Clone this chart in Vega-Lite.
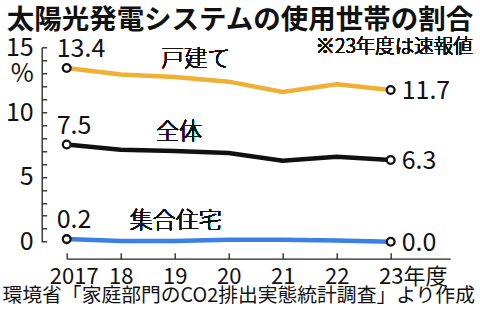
{
  "$schema": "https://vega.github.io/schema/vega-lite/v6.json",
  "width": 383.4,
  "height": 194.4,
  "autosize": "none",
  "padding": {"left": 66.7, "top": 47.3, "right": 30, "bottom": 81.3},
  "background": "white",
  "config": {
    "view": {"stroke": null},
    "font": "Noto Sans CJK JP",
    "axis": {"grid": false, "domainColor": "#222", "tickColor": "#222", "labelColor": "#111", "titleColor": "#111", "labelFont": "Noto Sans CJK JP", "titleFont": "Noto Sans CJK JP"}
  },
  "title": {
    "text": "太陽光発電システムの使用世帯の割合",
    "anchor": "start",
    "frame": "group",
    "font": "Noto Sans CJK JP",
    "fontSize": 27.5,
    "fontWeight": "bold",
    "color": "#111",
    "dx": -60,
    "dy": 3
  },
  "data": {
    "values": [
      {"series": "戸建て", "year": 2017, "value": 13.4},
      {"series": "戸建て", "year": 2018, "value": 12.9},
      {"series": "戸建て", "year": 2019, "value": 12.7},
      {"series": "戸建て", "year": 2020, "value": 12.35},
      {"series": "戸建て", "year": 2021, "value": 11.55},
      {"series": "戸建て", "year": 2022, "value": 12.15},
      {"series": "戸建て", "year": 2023, "value": 11.7},
      {"series": "全体", "year": 2017, "value": 7.5},
      {"series": "全体", "year": 2018, "value": 7.1},
      {"series": "全体", "year": 2019, "value": 7.0},
      {"series": "全体", "year": 2020, "value": 6.85},
      {"series": "全体", "year": 2021, "value": 6.25},
      {"series": "全体", "year": 2022, "value": 6.55},
      {"series": "全体", "year": 2023, "value": 6.3},
      {"series": "集合住宅", "year": 2017, "value": 0.2},
      {"series": "集合住宅", "year": 2018, "value": 0.05},
      {"series": "集合住宅", "year": 2019, "value": 0.05},
      {"series": "集合住宅", "year": 2020, "value": 0.15},
      {"series": "集合住宅", "year": 2021, "value": 0.15},
      {"series": "集合住宅", "year": 2022, "value": 0.1},
      {"series": "集合住宅", "year": 2023, "value": 0.0}
    ]
  },
  "encoding": {
    "x": {
      "field": "year",
      "type": "quantitative",
      "scale": {"domain": [2017, 2024.1], "nice": false, "zero": false},
      "axis": {
        "values": [2017, 2018, 2019, 2020, 2021, 2022, 2023],
        "format": "d",
        "labelExpr": "datum.value == 2017 ? datum.label : (datum.value == 2023 ? '23年度' : substring(datum.label, 2))",
        "labelFontSize": 22,
        "labelPadding": 14,
        "labelOverlap": false,
        "labelFlush": false,
        "labelBound": false,
        "labelOffset": {"condition": [{"test": "datum.value == 2023", "value": 22}, {"test": "datum.value == 2017", "value": 7}], "value": 0},
        "offset": 17,
        "tickSize": -6,
        "tickWidth": 1.3,
        "domainWidth": 1.3,
        "title": "環境省「家庭部門のCO2排出実態統計調査」より作成",
        "titleFontSize": 19.8,
        "titleFontWeight": "normal",
        "titleAnchor": "start",
        "titleAlign": "left",
        "titleBaseline": "middle",
        "titleX": -64.7,
        "titleY": 37
      }
    },
    "y": {
      "field": "value",
      "type": "quantitative",
      "scale": {"domain": [0, 15], "nice": false},
      "axis": {
        "values": [0, 1, 2, 3, 4, 5, 6, 7, 8, 9, 10, 11, 12, 13, 14, 15],
        "labelExpr": "datum.value == 13 ? '%' : (datum.value % 5 == 0 ? datum.label : '')",
        "labelFontSize": 25,
        "labelPadding": 13.5,
        "labelOverlap": false,
        "labelBound": false,
        "labelFlush": false,
        "offset": 25,
        "tickSize": -5,
        "tickWidth": 1.3,
        "domainWidth": 1.3,
        "title": null
      }
    }
  },
  "layer": [
    {
      "mark": {"type": "line", "strokeWidth": 4.5, "strokeCap": "butt"},
      "encoding": {
        "color": {
          "field": "series",
          "type": "nominal",
          "scale": {"domain": ["戸建て", "全体", "集合住宅"], "range": ["#EFB033", "#111111", "#3C7FE6"]},
          "legend": null
        },
        "detail": {"field": "series"}
      }
    },
    {
      "transform": [{"filter": "datum.year == 2017 || datum.year == 2023"}],
      "mark": {"type": "point", "shape": "circle", "filled": true, "fill": "white", "stroke": "#111", "strokeWidth": 2.3, "size": 60, "opacity": 1}
    },
    {
      "transform": [{"filter": "datum.year == 2017"}],
      "mark": {"type": "text", "font": "Noto Sans CJK JP", "fill": "#111", "align": "left", "baseline": "alphabetic", "dx": -10, "dy": -11, "fontSize": 25, "fontWeight": 400},
      "encoding": {"text": {"field": "value", "type": "quantitative", "format": ".1f"}}
    },
    {
      "transform": [{"filter": "datum.year == 2023"}],
      "mark": {"type": "text", "font": "Noto Sans CJK JP", "fill": "#111", "align": "left", "baseline": "middle", "dx": 11, "dy": 1, "fontSize": 25, "fontWeight": 400},
      "encoding": {"text": {"field": "value", "type": "quantitative", "format": ".1f"}}
    },
    {
      "mark": {"type": "text", "text": "戸建て", "font": "Noto Sans CJK JP", "fill": "#111", "fontSize": 23, "fontWeight": 300, "align": "center", "baseline": "middle"},
      "encoding": {"x": {"datum": 2019.39}, "y": {"datum": 14.1}}
    },
    {
      "mark": {"type": "text", "text": "全体", "font": "Noto Sans CJK JP", "fill": "#111", "fontSize": 23, "fontWeight": 300, "align": "center", "baseline": "middle"},
      "encoding": {"x": {"datum": 2019.08}, "y": {"datum": 8.46}}
    },
    {
      "mark": {"type": "text", "text": "集合住宅", "font": "Noto Sans CJK JP", "fill": "#111", "fontSize": 23, "fontWeight": 300, "align": "center", "baseline": "middle"},
      "encoding": {"x": {"datum": 2019.02}, "y": {"datum": 1.6}}
    },
    {
      "mark": {"type": "text", "text": "※23年度は速報値", "font": "Noto Sans CJK JP", "fill": "#111", "fontSize": 19.5, "fontWeight": 300, "align": "right", "baseline": "middle"},
      "encoding": {"x": {"datum": 2024.52}, "y": {"datum": 15}}
    }
  ]
}
